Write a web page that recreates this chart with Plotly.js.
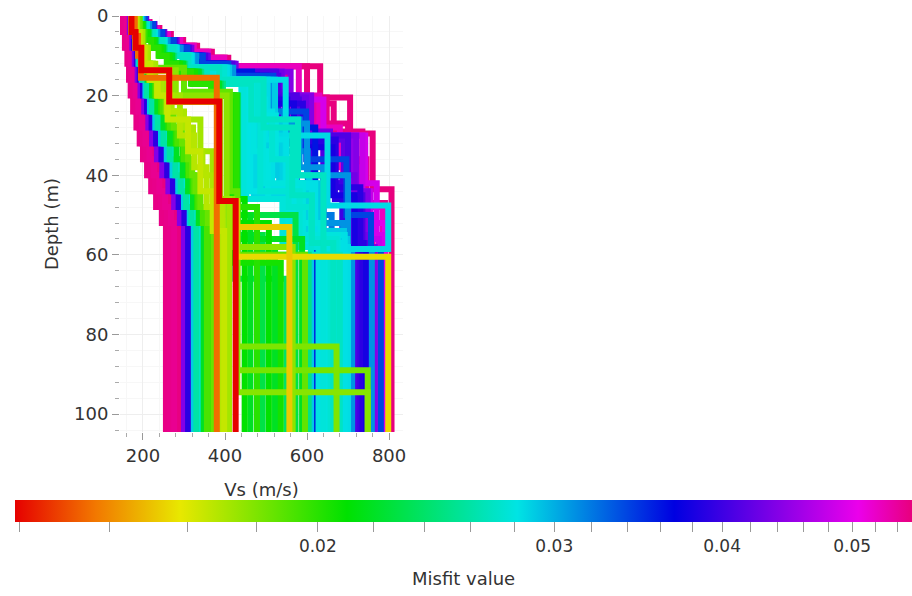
<!DOCTYPE html>
<html><head><meta charset="utf-8">
<script src="https://cdn.plot.ly/plotly-3.0.1.min.js"></script>
<style>body{margin:0;background:#fff}#chart{width:912px;height:596px}</style>
</head><body><div id="chart"></div>
<script>
// ---- data: ground models (layer bottoms in m, Vs per layer in m/s, last = half-space) ----
const profileMisfit = [
  0.0550, 0.0548, 0.0545, 0.0552,            // left pink
  0.0440, 0.0390,                            // left purple / blue
  0.0290, 0.0275, 0.0260,                    // left cyan
  0.0220, 0.0200, 0.0185, 0.0192,            // left green / lime
  0.0135, 0.0165, 0.0172, 0.0168, 0.0170, 0.0119, // orange, yellows, best (red)
  0.021, 0.022, 0.020, 0.023, 0.021, 0.022, 0.0205, 0.024, 0.023, 0.022, 0.025, // right greens
  0.0180, 0.0182, 0.0178, 0.0177, 0.0186,    // lime models
  0.0152, 0.0155,                            // gold models
  0.029, 0.028, 0.027, 0.0285, 0.027, 0.0280, 0.0288, 0.0275, 0.0283, // cyan
  0.0278, 0.0282, 0.0286, 0.0279, 0.0290, 0.0284,                     // cyan (mid depths)
  0.0281, 0.0287, 0.0276, 0.0289, 0.0283, 0.0291,                     // cyan (mid depths)
  0.032, 0.031, 0.031,                       // light blue
  0.040, 0.038, 0.034, 0.036, 0.043, 0.037, 0.041, 0.039, 0.042, 0.045, // blue / purple
  0.039, 0.041, 0.044,                       // blue / purple
  0.0554, 0.0550, 0.0535, 0.0510, 0.0553, 0.0500, 0.0525, 0.0480, 0.0490 // right pink
];
const profileBottoms = [
  [4,8,12,16,20,24,28,32,36,40,44,48,52],
  [4,8,12,16,20,24,28,32,36,40,44,48,52],
  [4,8,12,16,20,24,28,32,36,40,44,48,52],
  [4,8,12,16,20,24,28,32,36,40,44,48,52],
  [4,8,12,16,20,24,28,32,36,40,44,48,52],
  [4,8,12,16,20,24,28,32,36,40,44,48,52],
  [4,8,12,16,20,24,28,32,36,40,44,48,52],
  [4,8,12,16,20,24,28,32,36,40,44,48,52],
  [4,8,12,16,20,24,28,32,36,40,44,48,52],
  [4,8,12,16,20,24,28,32,36,40,44,48,52],
  [4,8,12,16,20,24,28,32,36,40,44,48,52],
  [4,8,12,16,20,24,28,32,36,40,44,48,52],
  [4,8,12,16,20,24,28,32,36,40,44,48,52],
  [5,10,15.5],
  [4,8,12,16,20,26,34,44,54],
  [4,8,12,16,20,26,34,46],
  [4,8,12,16,20,24,30,38,48],
  [4,8,12,16,20,24,28,34,40,48],
  [4,8,13.6,21.5,46.5],
  [2,4,6,8,10,12,14,17,20,46],
  [2,4,6,8,10,12,14,17,20,50],
  [2,4,6,8,10,12,14,17,20,48],
  [2,4,6,8,10,12,14,17,20,55],
  [2,4,6,8,10,12,14,17,20,52],
  [2,4,6,8,10,12,14,17,20,58],
  [2,4,6,8,10,12,14,17,20,62],
  [2,4,6,8,10,12,14,17,20,66],
  [2,4,6,8,10,12,14,17,20,50],
  [2,4,6,8,10,12,14,17,20,56],
  [2,4,6,8,10,12,14,17,20,60],
  [4,8,13.6,21.5,46.5,83],
  [4,8,13.6,21.5,46.5,89],
  [4,8,13.6,21.5,46.5,94.5],
  [4,8,13.6,20,46,58],
  [4,8,13,19,44,60],
  [4,8,13.6,21.5,46.5,53],
  [4,8,13.6,21.5,46.5,60.5],
  [2,4,6,8,10,13,17,27,42,55],
  [2,4,6,8,10,13,17,25,36,52],
  [2,4,6,8,10,13,16,28,45,57],
  [2,4,6,8,10,13,16,30,47.6,58.5],
  [2,4,6,8,10,13,17,26,40,60],
  [2,4,6,8,10,13,17,24,34,46,58],
  [2,4,6,8,10,13,17,22,32,44,56],
  [2,4,6,8,10,13,16,26,36,48,60],
  [2,4,6,8,10,13,16,21,31,42,57],
  [2,4,6,8,10,13,17,46,58],
  [2,4,6,8,10,13,17,44,57],
  [2,4,6,8,10,13,16,45,56],
  [2,4,6,8,10,13,16,42,55],
  [2,4,6,8,10,13,16,40,54],
  [2,4,6,8,10,13,16,43,58],
  [2,4,6,8,10,13,16,46,57],
  [2,4,6,8,10,13,16,45,58],
  [2,4,6,8,10,13,16,44,56],
  [2,4,6,8,10,13,16,22,46,57],
  [2,4,6,8,10,13,16,24,43,55],
  [2,4,6,8,10,13,16,26,42,56],
  [2,4,6,8,10,13,16,24,34,50,62],
  [2,4,6,8,10,13,16,26,38,52,60],
  [2,4,6,8,10,13,16,27,40,58.5],
  [2,4,6,8,10,12,15,20.5,30,40,58.5],
  [2,4,6,8,10,12,15,22,33,45,58.5],
  [2,4,6,8,10,12,15,24,36,50,58.5],
  [2,4,6,8,10,12,14,28],
  [2,4,6,8,10,12,14,20.5,29,40,55],
  [2,4,6,8,10,12,15,21,30,44,58],
  [2,4,6,8,10,12,14,21,30,42,58],
  [2,4,6,8,10,12,15,22,31,43,57],
  [2,4,6,8,10,12,14,19,31,46,58],
  [2,4,6,8,10,12,14,20,31,45,58],
  [2,4,6,8,10,12,15,21,32,46,58],
  [2,4,6,8,10,12,15,20,30,45,57],
  [2,4,6,8,10,12,14,20,30,44,58],
  [1.5,3,4.5,6,7.5,9,10.5,12.6,20.5,29.5,43.5],
  [1.5,3,4.5,6,7.5,9,10.5,12.6,20.5,27,36,47],
  [2,4,6,8,10,12,14,22,30,40,55],
  [2,4,6,8,10,12,14,20,32,42],
  [1.5,3,4.5,6,7.5,9,10.5,12.6,22,29,37,50,55],
  [2,4,6,8,10,12,14,21,30,40,52],
  [1.5,3,4.5,6,7.5,9,10.5,12.6,20,28,38,48],
  [2,4,6,8,10,12,14,20,30,44,56],
  [2,4,6,8,10,12,14,21,30,42,55]
];
const profileVs = [
  [150,156,162,166,170,176,184,192,200,210,220,232,246,256],
  [155,160,166,171,176,182,190,199,208,218,230,244,258,266],
  [160,165,170,176,182,189,197,206,216,227,240,254,268,276],
  [164,169,175,181,188,196,204,213,224,236,250,264,278,286],
  [168,174,180,187,194,203,213,222,234,247,262,276,290,300],
  [172,178,185,192,200,210,221,232,245,259,273,287,301,310],
  [176,182,189,197,206,217,230,244,258,272,286,300,314,324],
  [180,187,195,204,214,226,240,255,270,284,297,310,324,336],
  [178,185,192,200,210,222,236,250,265,279,292,305,318,330],
  [184,192,201,211,222,235,250,266,282,297,310,322,336,348],
  [188,196,206,217,229,244,262,280,297,310,321,332,348,360],
  [192,201,212,224,238,255,275,295,310,320,328,340,358,372],
  [186,194,204,216,231,248,266,284,300,312,324,335,346,356],
  [180,188,195,380],
  [182,192,204,218,236,260,310,340,370,398],
  [186,198,212,230,255,290,340,370,410],
  [180,190,202,216,234,258,290,325,355,392],
  [184,195,208,224,244,270,300,322,345,370,395],
  [172,182,196,264,386,426],
  [185,195,207,222,240,260,284,320,370,412,448],
  [186,197,209,225,243,263,288,324,374,422,462],
  [184,194,205,220,238,258,281,317,366,428,478],
  [187,198,211,227,246,267,292,330,380,408,492],
  [185,196,208,224,242,262,286,322,372,418,507],
  [188,199,212,229,248,270,296,334,384,430,522],
  [186,197,210,226,244,265,290,327,377,420,536],
  [189,201,214,231,251,273,300,338,390,425,550],
  [187,198,211,228,247,268,294,332,382,405,572],
  [188,200,213,230,249,271,298,336,386,415,588],
  [190,202,216,233,253,276,303,342,395,432,604],
  [174,184,198,266,388,430,672],
  [174,184,198,266,388,430,748],
  [173,183,197,265,387,430,748],
  [176,186,200,280,404,418,565],
  [178,188,202,300,412,430,595],
  [172,182,196,264,386,428,557],
  [172,182,196,264,386,428,798],
  [188,200,216,236,262,296,346,450,535,592,610],
  [190,203,220,242,268,303,366,476,524,574,634],
  [192,206,224,246,274,310,386,494,564,612,664],
  [195,209,228,251,280,316,404,504,650,798,650],
  [189,202,218,239,264,298,356,464,578,640,680],
  [190,204,222,244,270,305,372,440,470,505,560,628],
  [191,205,223,245,272,308,378,455,488,540,600,642],
  [193,207,226,249,277,313,398,480,515,555,610,657],
  [194,208,227,250,278,314,400,458,498,550,620,687],
  [190,203,220,242,268,303,368,445,540,640],
  [191,205,222,244,271,306,375,462,560,655],
  [192,206,224,247,274,310,390,478,575,668],
  [193,207,226,249,276,312,395,493,590,675],
  [194,208,227,250,278,314,398,522,605,690],
  [195,209,229,252,281,318,405,548,615,700],
  [191,204,221,243,269,304,385,452,548,646],
  [192,205,223,246,273,309,392,470,566,662],
  [193,206,225,248,275,311,396,486,582,672],
  [194,207,226,249,277,313,400,452,500,598,684],
  [195,208,228,251,280,316,402,470,515,612,692],
  [196,210,230,254,283,320,410,490,532,630,698],
  [196,211,230,254,284,322,394,484,544,602,660,694],
  [198,213,232,256,288,326,414,504,582,640,688,710],
  [199,215,235,260,292,330,420,512,600,700,758],
  [200,217,237,263,295,330,384,466,530,608,686,730],
  [203,221,243,270,302,340,398,500,568,662,716,744],
  [205,225,247,275,308,346,408,518,598,696,756,780],
  [201,219,240,267,299,335,393,466,620],
  [208,228,252,282,318,358,426,538,598,656,716,748],
  [202,220,241,268,300,337,396,478,520,575,640,702],
  [206,226,249,278,312,352,418,525,580,640,700,718],
  [204,223,245,273,306,344,404,510,590,670,730,738],
  [204,223,245,273,306,344,404,520,545,690,712,725],
  [206,226,249,278,312,352,418,540,600,710,740,760],
  [203,222,244,272,305,342,402,505,552,668,720,735],
  [205,224,247,276,310,348,412,530,575,700,735,752],
  [207,227,251,280,315,355,422,560,610,720,748,765],
  [196,216,240,268,298,332,368,408,632,705,760,806],
  [192,210,232,258,288,320,354,392,550,648,700,745,790],
  [190,207,229,254,284,316,354,502,618,688,728,760],
  [188,204,224,248,276,309,344,472,560,640,700],
  [194,213,236,263,293,326,362,400,600,665,735,700,762,720],
  [189,206,227,252,281,314,352,520,600,660,720,790],
  [193,212,234,261,291,324,359,398,580,630,680,730,785],
  [190,207,228,253,282,316,356,500,580,735,755,775],
  [191,208,229,255,284,318,358,540,640,742,770,782]
];
const maxDepth = 104.5;
const vsTicks = [200, 400, 600, 800];
const depthTicks = [0, 20, 40, 60, 80, 100];
const misfitRange = [0.0119, 0.0554];
const misfitTickValues = [0.02, 0.03, 0.04, 0.05];
const misfitTickLabels = ['0.02', '0.03', '0.04', '0.05'];
const misfitMinorTicks = [0.012,0.014,0.016,0.018,0.022,0.024,0.026,0.028,0.032,0.034,0.036,0.038,0.042,0.044,0.046,0.048,0.052,0.054];
const colorStops = [
  [0, 'rgb(230,0,0)'], [0.09, 'rgb(242,120,0)'], [0.184, 'rgb(232,232,0)'],
  [0.37, 'rgb(0,225,0)'], [0.56, 'rgb(0,228,228)'], [0.735, 'rgb(0,0,225)'],
  [0.94, 'rgb(235,0,235)'], [1, 'rgb(232,0,125)']
];

// ---- helpers ----
const lnMin = Math.log(misfitRange[0]), lnMax = Math.log(misfitRange[1]);
function parseRgb(s){ return s.match(/\d+/g).map(Number); }
function colorFor(m){
  let t = (Math.log(m) - lnMin) / (lnMax - lnMin);
  t = Math.max(0, Math.min(1, t));
  for (let i = 1; i < colorStops.length; i++) {
    if (t <= colorStops[i][0]) {
      const a = colorStops[i-1], b = colorStops[i];
      const f = (t - a[0]) / (b[0] - a[0]);
      const ca = parseRgb(a[1]), cb = parseRgb(b[1]);
      return 'rgb(' + ca.map((v,k)=>Math.round(v + (cb[k]-v)*f)).join(',') + ')';
    }
  }
  return colorStops[colorStops.length-1][1];
}

const order = profileMisfit.map((m,i)=>i).sort((a,b)=>profileMisfit[b]-profileMisfit[a]);
const traces = [];
order.forEach(i => {
  const bt = profileBottoms[i], vs = profileVs[i];
  const x = [vs[0]], y = [0];
  bt.forEach((d,k) => { x.push(vs[k]); y.push(d); x.push(vs[k+1]); y.push(d); });
  x.push(vs[vs.length-1]); y.push(maxDepth);
  traces.push({type:'scatter', mode:'lines', x, y, hoverinfo:'skip', showlegend:false,
    line:{color: colorFor(profileMisfit[i]), width:6}});
});

// plot area in pixels (used for placing the colour bar and its title)
const M = {l:120, r:509, t:16, b:164};
const plotW = 912 - M.l - M.r, plotH = 596 - M.t - M.b;

const cbTickVals = misfitTickValues.concat(misfitMinorTicks).map(Math.log);
const cbTickText = misfitTickLabels.concat(misfitMinorTicks.map(()=> ''));
traces.push({type:'scatter', mode:'markers', x:[profileVs[0][0]], y:[0], hoverinfo:'skip', showlegend:false,
  marker:{size:1, opacity:0, color:[Math.log(profileMisfit[0])], cmin:lnMin, cmax:lnMax,
    colorscale:colorStops, showscale:true,
    colorbar:{orientation:'h', thickness:22, thicknessmode:'pixels', len:897, lenmode:'pixels',
      xref:'paper', x:(15 - M.l)/plotW, xanchor:'left', yref:'container', y:(596-500)/596, yanchor:'top',
      xpad:0, ypad:0, outlinewidth:0, ticks:'outside', ticklen:10, tickcolor:'#999',
      ticklabeloverflow:'allow',
      tickvals:cbTickVals, ticktext:cbTickText,
      tickfont:{family:'DejaVu Sans', size:17, color:'#333'}}}
});

const font = {family:'DejaVu Sans', size:18, color:'#333'};
const layout = {
  width:912, height:596, paper_bgcolor:'#fff', plot_bgcolor:'#fff',
  margin:M, showlegend:false, font,
  xaxis:{range:[144, 834], tickvals:vsTicks, ticks:'outside', ticklen:7, tickcolor:'#999',
    showgrid:true, gridcolor:'#eeeeee', zeroline:false, showline:false, tickfont:font,
    minor:{dtick:40, tick0:0, ticks:'outside', ticklen:4, tickcolor:'#aaa', showgrid:true, gridcolor:'#f7f7f7'},
    title:{text:'Vs (m/s)', font, standoff:18}},
  yaxis:{range:[maxDepth, 0], tickvals:depthTicks, ticks:'outside', ticklen:7, tickcolor:'#999',
    showgrid:true, gridcolor:'#eeeeee', zeroline:false, showline:false, tickfont:font,
    minor:{dtick:4, tick0:0, ticks:'outside', ticklen:4, tickcolor:'#aaa', showgrid:true, gridcolor:'#f7f7f7'},
    title:{text:'Depth (m)', font, standoff:10}},
  annotations:[{text:'Misfit value', xref:'paper', yref:'paper', showarrow:false,
    x:(463.5 - M.l)/plotW, y:(596 - M.b - 578)/plotH, xanchor:'center', yanchor:'middle',
    font:{family:'DejaVu Sans', size:18, color:'#333'}}]
};
Plotly.newPlot('chart', traces, layout, {displayModeBar:false, staticPlot:true});
</script></body></html>
